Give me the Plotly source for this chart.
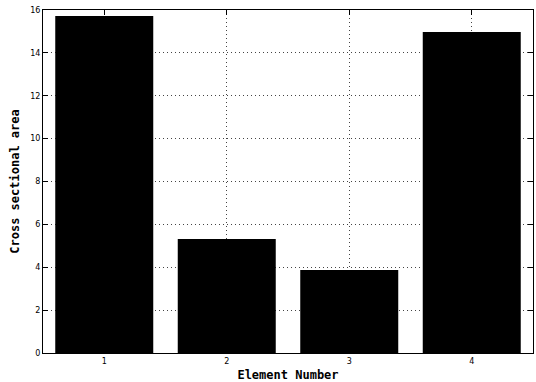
import plotly.graph_objects as go

elements = [1, 2, 3, 4]
areas = [15.72, 5.32, 3.87, 14.97]
y_ticks = [0, 2, 4, 6, 8, 10, 12, 14, 16]

fig = go.Figure()
fig.add_trace(go.Bar(x=elements, y=areas, width=0.8,
                     marker=dict(color="black", line=dict(width=0))))

fig.update_layout(
    width=536, height=382,
    margin=dict(l=43, r=3, t=10, b=29),
    plot_bgcolor="white", paper_bgcolor="white",
    showlegend=False,
    font=dict(family="DejaVu Sans", color="black", size=8),
)
fig.update_xaxes(
    range=[0.5, 4.5], tickvals=elements, ticktext=[str(e) for e in elements],
    showgrid=True, gridcolor="#444444", griddash="1px,3px", gridwidth=1,
    showline=True, linecolor="black", linewidth=1, mirror="ticks",
    ticks="inside", ticklen=5, tickcolor="black",
    title=dict(text="<b>Element Number</b>", font=dict(family="DejaVu Sans Mono", size=12), standoff=6),
    zeroline=False,
)
fig.update_yaxes(
    range=[0, 16], tickvals=y_ticks, ticktext=[str(v) for v in y_ticks],
    showgrid=True, gridcolor="#444444", griddash="1px,3px", gridwidth=1,
    showline=True, linecolor="black", linewidth=1, mirror="ticks",
    ticks="inside", ticklen=5, tickcolor="black",
    title=dict(text="<b>Cross sectional area</b>", font=dict(family="DejaVu Sans Mono", size=12), standoff=8),
    zeroline=False,
)

fig.write_html("out.html")
